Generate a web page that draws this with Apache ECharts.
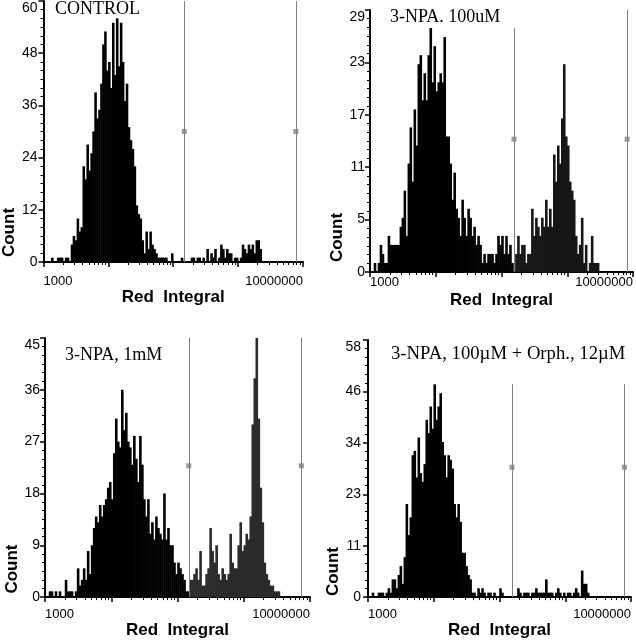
<!DOCTYPE html>
<html>
<head>
<meta charset="utf-8">
<script src="https://cdn.jsdelivr.net/npm/echarts@6/dist/echarts.min.js"></script>
<style>
  html, body { margin: 0; padding: 0; background: #fff; }
  #chart { width: 636px; height: 640px; }
</style>
</head>
<body>
<div id="chart"></div>
<script>
// counts per channel, 132 log-spaced channels from 10^3 to 10^7
const control = [
  0, 0, 0, 0, 1, 0, 0, 1, 1, 1, 0, 1,
  1, 0, 4, 6, 5, 10, 7, 8, 22, 19, 27, 21,
  25, 30, 39, 33, 35, 41, 50, 53, 44, 46, 40, 55,
  43, 56, 45, 55, 46, 37, 41, 31, 28, 26, 22, 13,
  11, 10, 5, 2, 7, 3, 7, 4, 3, 2, 1, 1,
  1, 1, 1, 0, 0, 2, 0, 0, 0, 0, 1, 0,
  0, 0, 0, 1, 1, 0, 1, 1, 0, 1, 0, 3,
  0, 2, 1, 3, 0, 1, 4, 3, 1, 3, 2, 2,
  0, 1, 1, 0, 1, 4, 3, 2, 4, 3, 4, 2,
  5, 5, 3, 0, 0, 0, 0, 0, 0, 0, 0, 0,
  0, 0, 0, 0, 0, 0, 0, 0, 0, 0, 0, 0
];
const npa100 = [
  0, 0, 1, 0, 1, 3, 2, 1, 1, 4, 3, 3,
  3, 3, 3, 5, 6, 9, 4, 12, 16, 10, 18, 14,
  23, 24, 19, 22, 19, 24, 27, 21, 25, 20, 21, 22,
  21, 26, 15, 15, 12, 8, 11, 7, 6, 4, 8, 6,
  4, 7, 6, 4, 5, 3, 4, 3, 1, 2, 1, 2,
  2, 2, 1, 2, 4, 3, 4, 2, 4, 2, 3, 1,
  0, 2, 4, 2, 3, 3, 1, 2, 2, 7, 4, 6,
  5, 4, 6, 5, 8, 5, 7, 5, 13, 10, 14, 12,
  17, 23, 15, 14, 10, 9, 8, 4, 2, 3, 6, 1,
  3, 0, 1, 4, 1, 1, 1, 0, 0, 0, 0, 0,
  0, 0, 0, 0, 0, 0, 0, 0, 0, 0, 0, 0
];
const npa1mM = [
  0, 0, 1, 1, 0, 1, 0, 1, 0, 0, 3, 1,
  1, 1, 0, 1, 5, 2, 3, 5, 3, 8, 4, 9,
  12, 14, 13, 16, 14, 16, 17, 19, 20, 17, 25, 31,
  27, 26, 36, 29, 32, 27, 26, 23, 28, 24, 20, 28,
  23, 17, 14, 17, 11, 13, 10, 14, 12, 11, 10, 18,
  10, 12, 9, 9, 6, 4, 6, 5, 4, 3, 1, 1,
  3, 3, 4, 5, 3, 8, 2, 2, 4, 5, 12, 8,
  6, 9, 4, 3, 5, 4, 3, 4, 11, 6, 5, 5,
  9, 13, 8, 9, 11, 10, 14, 30, 38, 45, 31, 19,
  13, 6, 4, 3, 2, 2, 1, 1, 1, 0, 0, 0,
  0, 0, 0, 0, 0, 0, 0, 0, 0, 0, 0, 0
];
const npaOrph = [
  0, 0, 1, 0, 0, 1, 1, 1, 0, 1, 2, 1,
  4, 4, 2, 5, 7, 3, 9, 21, 14, 18, 32, 33,
  27, 36, 28, 26, 30, 40, 37, 43, 38, 48, 40, 43,
  46, 35, 32, 27, 32, 31, 29, 21, 18, 21, 17, 10,
  10, 7, 5, 4, 1, 1, 0, 2, 1, 2, 1, 0,
  1, 1, 0, 1, 0, 0, 2, 1, 0, 0, 0, 0,
  0, 0, 0, 2, 1, 0, 1, 1, 1, 0, 1, 1,
  2, 1, 1, 1, 1, 4, 1, 1, 1, 0, 1, 2,
  1, 0, 1, 0, 1, 1, 0, 1, 2, 1, 0, 6,
  3, 3, 1, 0, 0, 0, 0, 0, 0, 0, 0, 0,
  0, 0, 0, 0, 0, 0, 0, 0, 0, 0, 0, 0
];

const titles = ['CONTROL', '3-NPA. 100uM', '3-NPA, 1mM', '3-NPA, 100\u00b5M + Orph., 12\u00b5M'];
const yMaxes = [60, 29, 45, 58];
// gate cursors, log10(Red Integral)
const cursorsLeft = [5.17, 5.19, 5.17, 5.19];
const cursorsRight = [6.89, 6.91, 6.87, 6.90];
const cursorMarks = [30, 14.7, 22.8, 29.3];
const cursorTops = [[60, 60], [27, 29], [45, 45], [48, 48]];

const counts = [control, npa100, npa1mM, npaOrph];
const sans = 'Arial, "Liberation Sans", sans-serif';

const layout = [
  {grid: [38, 1, 333, 378], titlePos: [55, 0], xMargin: 13, xGap: 18, yMargin: 6, yGap: 21, pad: 202, right: '#000', tsize: 18},
  {grid: [370, 10, 3, 368], titlePos: [390, 8], xMargin: 4, xGap: 20, yMargin: 5, yGap: 21, pad: 193, right: '#161616', tsize: 18},
  {grid: [45, 338, 326, 38], titlePos: [65, 346], xMargin: 11, xGap: 17, yMargin: 5, yGap: 22, pad: 203, right: '#2b2b2b', tsize: 18},
  {grid: [368, 340, 5, 38], titlePos: [391, 345], xMargin: 11, xGap: 17, yMargin: 7, yGap: 22, pad: 206, right: '#000', tsize: 18.7}
];

const chart = echarts.init(document.getElementById('chart'), null, {renderer: 'canvas'});

const cats = control.map((_, i) => 'ch' + i);
const minorTicks = [];
for (let d = 3; d < 7; d++) {
  for (let k = 2; k <= 9; k++) minorTicks.push(d + Math.log10(k));
}

const grid = [], xAxis = [], yAxis = [], series = [], title = [];

layout.forEach((L, i) => {
  grid.push({left: L.grid[0], top: L.grid[1], right: L.grid[2], bottom: L.grid[3]});
  title.push({
    text: titles[i], left: L.titlePos[0], top: L.titlePos[1], padding: 0,
    textStyle: {fontFamily: '"Times New Roman", "Liberation Serif", serif', fontWeight: 'normal', fontSize: L.tsize, color: '#000'}
  });

  // channels
  xAxis.push({gridIndex: i, type: 'category', data: cats, show: false, position: 'bottom', boundaryGap: true});
  // decades
  xAxis.push({
    gridIndex: i, type: 'value', min: 3, max: 7, interval: 1, position: 'bottom',
    axisLine: {show: true, onZero: false, lineStyle: {color: '#000', width: 2}},
    axisTick: {show: true, length: 5, lineStyle: {color: '#000', width: 1.5}},
    splitLine: {show: false},
    axisLabel: {
      formatter: v => (v === 3 || v === 7) ? String(Math.pow(10, v)) : '',
      margin: L.xMargin, fontSize: 13, color: '#000', fontFamily: sans,
      alignMinLabel: 'left', alignMaxLabel: 'right'
    },
    name: 'Red  Integral', nameLocation: 'middle', nameGap: L.xGap,
    nameTextStyle: {fontSize: 17, fontWeight: 'bold', fontFamily: sans, color: '#000'}
  });
  // minor log ticks
  xAxis.push({
    gridIndex: i, type: 'value', min: 3, max: 7, position: 'bottom',
    axisLine: {show: false, onZero: false},
    axisTick: {show: true, customValues: minorTicks, length: 3, lineStyle: {color: '#000', width: 1}},
    axisLabel: {show: false}, splitLine: {show: false}
  });

  const yMax = yMaxes[i];
  yAxis.push({
    gridIndex: i, type: 'value', min: 0, max: yMax, interval: yMax / 5,
    axisLine: {show: true, lineStyle: {color: '#000', width: 2}},
    axisTick: {show: true, length: 5, lineStyle: {color: '#000', width: 1.5}},
    minorTick: {show: true, splitNumber: 6, length: 3, lineStyle: {color: '#000', width: 1}},
    splitLine: {show: false},
    axisLabel: {
      formatter: v => String(Math.floor(v + 1e-6)),
      margin: L.yMargin, fontSize: 14, color: '#000', fontFamily: sans,
      verticalAlignMaxLabel: 'top'
    },
    name: 'Count', nameLocation: 'middle', nameGap: L.yGap,
    nameTextStyle: {fontSize: 17, fontWeight: 'bold', fontFamily: sans, color: '#000', padding: [0, L.pad, 0, 0]}
  });

  const cut = (cursorsLeft[i] - 3) / 4 * cats.length;
  series.push({
    type: 'bar', xAxisIndex: i * 3, yAxisIndex: i, data: counts[i],
    barWidth: '130%', silent: true,
    itemStyle: {color: p => p.dataIndex >= cut ? L.right : '#000'}
  });

  const xs = [cursorsLeft[i], cursorsRight[i]];
  series.push({
    type: 'scatter', xAxisIndex: i * 3 + 1, yAxisIndex: i, silent: true,
    data: xs.map(x => [x, cursorMarks[i]]),
    symbol: 'rect', symbolSize: 5, itemStyle: {color: '#808080'}, z: 5,
    markLine: {
      silent: true, symbol: 'none', label: {show: false},
      lineStyle: {color: '#808080', width: 1, type: 'solid'},
      data: xs.map((x, k) => [{coord: [x, 0]}, {coord: [x, cursorTops[i][k]]}])
    }
  });
});

chart.setOption({animation: false, backgroundColor: '#fff', title, grid, xAxis, yAxis, series});
</script>
</body>
</html>
